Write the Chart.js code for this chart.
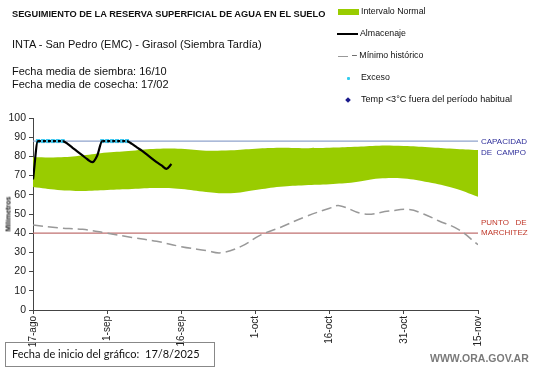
<!DOCTYPE html>
<html><head><meta charset="utf-8">
<script src="https://cdn.jsdelivr.net/npm/chart.js@4/dist/chart.umd.min.js"></script>
<style>
html,body{margin:0;padding:0;background:#fff;}
#wrap{position:relative;width:541px;height:368px;overflow:hidden;font-family:"Liberation Sans",Arial,sans-serif;color:#111;}
canvas{position:absolute;left:0;top:0;}
.t{position:absolute;white-space:nowrap;line-height:1;}
</style></head><body>
<div id="wrap">
<canvas id="c" width="541" height="368"></canvas>
<div class="t" style="left:12px;top:10px;font-size:9.25px;font-weight:bold;">SEGUIMIENTO DE LA RESERVA SUPERFICIAL DE AGUA EN EL SUELO</div>
<div class="t" style="left:12px;top:39px;font-size:11px;">INTA - San Pedro (EMC) - Girasol (Siembra Tardía)</div>
<div class="t" style="left:12px;top:66px;font-size:11px;">Fecha media de siembra: 16/10</div>
<div class="t" style="left:12px;top:79px;font-size:11px;">Fecha media de cosecha: 17/02</div>

<div style="position:absolute;left:338px;top:9px;width:21px;height:6px;background:#99cc00;"></div>
<div class="t" style="left:361px;top:7px;font-size:8.8px;">Intervalo Normal</div>
<div style="position:absolute;left:337px;top:33px;width:21px;height:2px;background:#000;"></div>
<div class="t" style="left:360px;top:29px;font-size:8.8px;">Almacenaje</div>
<div style="position:absolute;left:338px;top:56px;width:10px;height:1px;background:#999;"></div>
<div class="t" style="left:352px;top:51px;font-size:8.8px;">– Mínimo histórico</div>
<div style="position:absolute;left:347px;top:77px;width:3px;height:3px;border-radius:1px;background:#33ccee;"></div>
<div class="t" style="left:361px;top:73px;font-size:8.8px;">Exceso</div>
<div style="position:absolute;left:346px;top:98px;width:4px;height:4px;background:#1a1a8c;transform:rotate(45deg);"></div>
<div class="t" style="left:361px;top:95px;font-size:9.1px;">Temp &lt;3°C fuera del período habitual</div>

<div class="t" style="left:481px;top:138px;font-size:8px;color:#2e2e9a;">CAPACIDAD</div>
<div class="t" style="left:481px;top:149px;font-size:8px;color:#2e2e9a;">DE&nbsp; CAMPO</div>
<div class="t" style="left:481px;top:219px;font-size:8px;color:#c0392b;">PUNTO&nbsp;&nbsp; DE</div>
<div class="t" style="left:481px;top:229px;font-size:8px;color:#c0392b;">MARCHITEZ</div>

<div class="t" style="top:214px;left:8px;font-size:7px;font-weight:bold;transform:translate(-50%,-50%) rotate(-90deg);transform-origin:center;">Milímetros</div>

<div style="position:absolute;left:5px;top:342px;width:208px;height:23px;border:1px solid #888;"></div>
<div class="t" style="left:12px;top:348px;font-size:11px;font-family:Lato,'Liberation Sans',sans-serif;">Fecha de inicio del gráfico:</div>
<div class="t" style="left:145px;top:348px;font-size:11px;font-family:Lato,'Liberation Sans',sans-serif;">17/8/2025</div>
<div class="t" style="left:430px;top:353px;font-size:10.5px;font-weight:bold;color:#7a7a7a;">WWW.ORA.GOV.AR</div>
</div>
<script>
// Days counted from 17-ago
const tickLabels = ["17-ago","1-sep","16-sep","1-oct","16-oct","31-oct","15-nov"];
const capacidadCampo = 88;
const puntoMarchitez = 40;

const bandDays  = [0,5,10,15,20,25,30,35,40,45,50,55,60,65,70,75,80,85,90];
const bandUpper = [79.5,79.5,80.5,82,83,84,84,83,83.2,84,84.5,84.3,84.5,85,85.6,85.4,84.8,84,83.3];
const bandLower = [64,62.5,62,62.5,63,63.5,63,61.5,60.8,62.5,64.2,65,65.5,66.5,68.5,68.5,66.5,63.5,59];

const minDays   = [0,5,10,15,20,25,30,35,38,42,46,50,55,60,62,67,72,76,79,82,86,90];
const minValues = [44.3,42.8,42,40,37.8,35.8,33,31,29.8,33,39,43,48.5,53,54.3,50,51.5,52.4,50,46.5,42,34];

const almDays   = [0,1,2,3,4,5,6,7,8,9,10,11,12,13,14,15,16,17,18,19,20,21,22,23,24,25,26,27,28];
const almValues = [68,88,88,88,88,88,88,86.5,84.5,82.5,80.5,78.5,77,80.5,88,88,88,88,88,88,86.5,84.7,83,81,79,77,75.3,73.5,76];

const excesoDays   = [1,2,3,4,5,6,14,15,16,17,18,19];
const excesoValues = [88,88,88,88,88,88,88,88,88,88,88,88];

const pts = (xs, ys) => xs.map((x,i)=>({x:x,y:ys[i]}));
const xMin = 0, xMax = 90;
const flatAtCap = (ctx) => (ctx.p0.parsed.y >= capacidadCampo && ctx.p1.parsed.y >= capacidadCampo) ? [3,2] : undefined;

new Chart(document.getElementById('c'), {
  type: 'line',
  data: {
    datasets: [
      {label:'Almacenaje', data: pts(almDays, almValues), borderColor:'#000', borderWidth:2.2, pointRadius:0, tension:0.25, cubicInterpolationMode:'monotone', segment:{borderDash:flatAtCap}, order:0},
      {label:'Exceso', data: pts(excesoDays, excesoValues), showLine:false, pointStyle:'rect', pointRadius:2.9, pointBackgroundColor:'#40c8f0', pointBorderWidth:0, order:1},
      {label:'Mínimo histórico', data: pts(minDays, minValues), borderColor:'#999', borderWidth:1.5, borderDash:[10,5], pointRadius:0, tension:0.4, order:2},
      {label:'Capacidad', data: pts([xMin,xMax],[capacidadCampo,capacidadCampo]), borderColor:'#8fa3cc', borderWidth:1.2, pointRadius:0, order:3},
      {label:'Marchitez', data: pts([xMin,xMax],[puntoMarchitez,puntoMarchitez]), borderColor:'#c07070', borderWidth:1.2, pointRadius:0, order:3},
      {label:'lower', data: pts(bandDays, bandLower), borderWidth:0, borderColor:'rgba(0,0,0,0)', pointRadius:0, tension:0.4, fill:false, order:9},
      {label:'Intervalo Normal', data: pts(bandDays, bandUpper), borderWidth:0, borderColor:'rgba(0,0,0,0)', backgroundColor:'#99cc00', pointRadius:0, tension:0.4, fill:'-1', order:8}
    ]
  },
  options: {
    responsive:false, animation:false,
    layout:{padding:{top:118,right:63,left:0,bottom:0}},
    plugins:{legend:{display:false}, tooltip:{enabled:false}},
    scales:{
      x:{type:'linear', min:xMin, max:xMax,
         afterFit:(s)=>{s.height=58;},
         afterBuildTicks:(s)=>{s.ticks=[0,15,30,45,60,75,90].map(v=>({value:v}));},
         ticks:{minRotation:90,maxRotation:90,autoSkip:false,padding:2,color:'#222',font:{family:'Liberation Sans',size:10},
                callback:(v,i)=>tickLabels[i]},
         grid:{drawOnChartArea:false,drawTicks:true,tickLength:4,color:'#444'},
         border:{color:'#444',width:1}},
      y:{min:0,max:100,
         afterFit:(s)=>{s.width=33;},
         ticks:{stepSize:10,padding:3,color:'#222',font:{family:'Liberation Sans',size:10.5}},
         grid:{drawOnChartArea:false,drawTicks:true,tickLength:4,color:'#444'},
         border:{color:'#444',width:1}}
    }
  }
});
</script>
</body></html>
